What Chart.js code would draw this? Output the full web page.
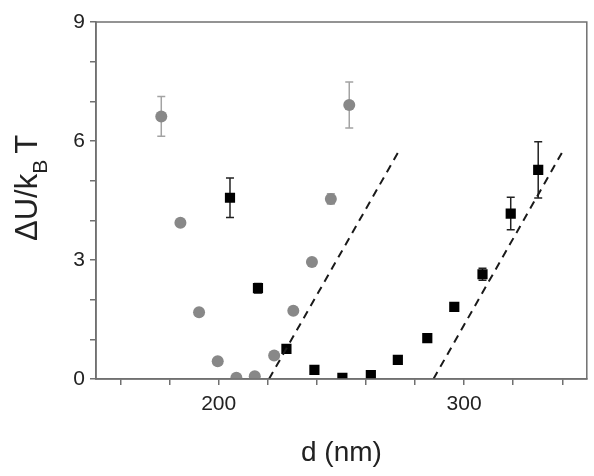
<!DOCTYPE html>
<html>
<head>
<meta charset="utf-8">
<script src="https://cdn.jsdelivr.net/npm/chart.js@4/dist/chart.umd.min.js"></script>
<style>
  html, body { margin: 0; padding: 0; background: #fff; }
</style>
</head>
<body>
<canvas id="grafico" width="594" height="476"></canvas>
<script>
// circulos cinza
const dCirculos = [176.6, 184.4, 192.0, 199.6, 207.2, 214.7, 222.6, 230.4, 238.0, 245.7, 253.2];
const uCirculos = [6.62, 3.94, 1.68, 0.45, 0.03, 0.07, 0.59, 1.72, 2.95, 4.54, 6.91];
const errCirculos = [0.5, 0, 0, 0, 0, 0, 0, 0, 0, 0.13, 0.58];

// quadrados pretos
const dQuadrados = [204.6, 216.0, 227.6, 239.0, 250.4, 262.0, 273.0, 285.0, 296.0, 307.5, 319.0, 330.2];
const uQuadrados = [4.57, 2.29, 0.76, 0.23, 0.03, 0.10, 0.48, 1.03, 1.82, 2.64, 4.17, 5.27];
const errQuadrados = [0.5, 0.12, 0, 0, 0, 0, 0, 0, 0, 0.15, 0.41, 0.71];

// retas tracejadas
const dReta1 = [220.5, 273];
const uReta1 = [0, 5.7];
const dReta2 = [287.5, 340];
const uReta2 = [0, 5.72];

const ticksX = [160, 180, 200, 220, 240, 260, 280, 300, 320, 340];
const rotulosX = [200, 300];
const ticksY = [0, 1, 2, 3, 4, 5, 6, 7, 8, 9];
const rotulosY = [0, 3, 6, 9];

const fonte = '"Liberation Sans", Arial, sans-serif';
const pontos = (xs, ys) => xs.map((v, i) => ({ x: v, y: ys[i] }));

const barrasErro = {
    id: 'barrasErro',
    beforeDatasetsDraw(chart) {
        const ctx = chart.ctx;
        const sx = chart.scales.x, sy = chart.scales.y;
        const grupos = [
            [dCirculos, uCirculos, errCirculos, '#a3a3a3'],
            [dQuadrados, uQuadrados, errQuadrados, '#222']
        ];
        ctx.save();
        ctx.lineWidth = 1.5;
        grupos.forEach(([xs, ys, es, cor]) => {
            ctx.strokeStyle = cor;
            xs.forEach((v, i) => {
                if (!es[i]) return;
                const px = sx.getPixelForValue(v);
                const y1 = sy.getPixelForValue(ys[i] - es[i]);
                const y2 = sy.getPixelForValue(ys[i] + es[i]);
                ctx.beginPath();
                ctx.moveTo(px, y1); ctx.lineTo(px, y2);
                ctx.moveTo(px - 4, y1); ctx.lineTo(px + 4, y1);
                ctx.moveTo(px - 4, y2); ctx.lineTo(px + 4, y2);
                ctx.stroke();
            });
        });
        ctx.restore();
    }
};

const moldura = {
    id: 'moldura',
    afterDraw(chart) {
        const ctx = chart.ctx, a = chart.chartArea;
        ctx.save();
        ctx.strokeStyle = '#707070';
        ctx.lineWidth = 1.5;
        ctx.strokeRect(a.left, a.top, a.right - a.left, a.bottom - a.top);

        // titulo do eixo y com subscrito
        ctx.translate(26, 188);
        ctx.rotate(-Math.PI / 2);
        ctx.fillStyle = '#222';
        ctx.textBaseline = 'alphabetic';
        const f1 = '31px ' + fonte;
        const f2 = '21px ' + fonte;
        ctx.font = f1;
        const p1 = 'ΔU/k', p3 = 'T';
        const w1 = ctx.measureText(p1).width;
        const w3 = ctx.measureText(p3).width;
        ctx.font = f2;
        const w2 = ctx.measureText('B').width;
        const total = w1 + w2 + 6 + w3;
        const x0 = -total / 2;
        ctx.font = f1;
        ctx.fillText(p1, x0, 11);
        ctx.font = f2;
        ctx.fillText('B', x0 + w1, 21);
        ctx.font = f1;
        ctx.fillText(p3, x0 + w1 + w2 + 6, 11);
        ctx.restore();
    }
};

const ctx = document.getElementById('grafico').getContext('2d');
new Chart(ctx, {
    type: 'scatter',
    data: {
        datasets: [
            {
                label: 'reta 1',
                data: pontos(dReta1, uReta1),
                showLine: true,
                borderColor: '#1a1a1a',
                borderWidth: 2,
                borderDash: [8, 6],
                pointRadius: 0
            },
            {
                label: 'reta 2',
                data: pontos(dReta2, uReta2),
                showLine: true,
                borderColor: '#1a1a1a',
                borderWidth: 2,
                borderDash: [8, 6],
                pointRadius: 0
            },
            {
                label: 'circulos',
                data: pontos(dCirculos, uCirculos),
                pointStyle: 'circle',
                pointRadius: 6,
                backgroundColor: '#888888',
                borderColor: '#888888',
                borderWidth: 0
            },
            {
                label: 'quadrados',
                data: pontos(dQuadrados, uQuadrados),
                pointStyle: 'rect',
                pointRadius: 7.2,
                backgroundColor: '#000',
                borderColor: '#000',
                borderWidth: 0
            }
        ]
    },
    options: {
        responsive: false,
        animation: false,
        layout: { padding: { left: 0, right: 2, top: 22, bottom: 2 } },
        plugins: { legend: { display: false }, tooltip: { enabled: false } },
        scales: {
            x: {
                type: 'linear',
                min: 150,
                max: 350,
                afterBuildTicks: s => { s.ticks = ticksX.map(v => ({ value: v })); },
                afterFit: s => { s.height = 95; },
                grid: { drawOnChartArea: false, color: '#707070', tickLength: 6, lineWidth: 1.5 },
                border: { color: '#707070', width: 1.5 },
                ticks: {
                    autoSkip: false,
                    maxRotation: 0,
                    padding: 7,
                    color: '#222',
                    font: { family: fonte, size: 21 },
                    callback: v => rotulosX.includes(v) ? String(v) : ''
                },
                title: {
                    display: true,
                    text: 'd (nm)',
                    color: '#222',
                    font: { family: fonte, size: 28 }
                }
            },
            y: {
                type: 'linear',
                min: 0,
                max: 9,
                afterBuildTicks: s => { s.ticks = ticksY.map(v => ({ value: v })); },
                afterFit: s => { s.width = 96; },
                grid: { drawOnChartArea: false, color: '#707070', tickLength: 6, lineWidth: 1.5 },
                border: { color: '#707070', width: 1.5 },
                ticks: {
                    autoSkip: false,
                    padding: 5,
                    color: '#222',
                    font: { family: fonte, size: 21 },
                    callback: v => rotulosY.includes(v) ? String(v) : ''
                }
            }
        }
    },
    plugins: [barrasErro, moldura]
});
</script>
</body>
</html>
